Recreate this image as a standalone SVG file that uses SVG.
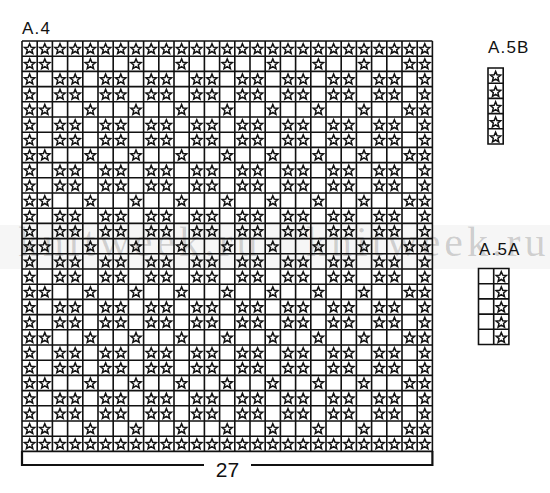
<svg xmlns="http://www.w3.org/2000/svg" width="550" height="493" viewBox="0 0 550 493">
<style>
.lbl{font-family:"Liberation Sans",Arial,sans-serif;font-size:17px;fill:#111;letter-spacing:1.2px}
.num{font-family:"Liberation Sans",Arial,sans-serif;font-size:21px;fill:#111}
.grid{fill:none;stroke:#111;stroke-width:1.6}
.br{fill:none;stroke:#111;stroke-width:2.2}
.wm{font-family:"Liberation Serif","Times New Roman",serif;font-size:42px;fill:#000;fill-opacity:0.17;letter-spacing:4px}
</style>
<defs>
<path id="s" d="M0,-4.9 L1.411,-1.442 L5.136,-1.169 L2.283,1.242 L3.174,4.869 L0,2.9 L-3.174,4.869 L-2.283,1.242 L-5.136,-1.169 L-1.411,-1.442 Z" fill="#fff" stroke="#111" stroke-width="1.5" stroke-linejoin="miter"/>
<g id="rF">
<use href="#s" x="0"/><use href="#s" x="15.2"/><use href="#s" x="30.4"/><use href="#s" x="45.6"/><use href="#s" x="60.8"/><use href="#s" x="76"/><use href="#s" x="91.2"/><use href="#s" x="106.4"/><use href="#s" x="121.6"/><use href="#s" x="136.8"/><use href="#s" x="152"/><use href="#s" x="167.2"/><use href="#s" x="182.4"/><use href="#s" x="197.6"/><use href="#s" x="212.8"/><use href="#s" x="228"/><use href="#s" x="243.2"/><use href="#s" x="258.4"/><use href="#s" x="273.6"/><use href="#s" x="288.8"/><use href="#s" x="304"/><use href="#s" x="319.2"/><use href="#s" x="334.4"/><use href="#s" x="349.6"/><use href="#s" x="364.8"/><use href="#s" x="380"/><use href="#s" x="395.2"/>
</g>
<g id="rA">
<use href="#s" x="0"/><use href="#s" x="15.2"/><use href="#s" x="60.8"/><use href="#s" x="106.4"/><use href="#s" x="152"/><use href="#s" x="197.6"/><use href="#s" x="243.2"/><use href="#s" x="288.8"/><use href="#s" x="334.4"/><use href="#s" x="380"/><use href="#s" x="395.2"/>
</g>
<g id="rB">
<use href="#s" x="0"/><use href="#s" x="30.4"/><use href="#s" x="45.6"/><use href="#s" x="76"/><use href="#s" x="91.2"/><use href="#s" x="121.6"/><use href="#s" x="136.8"/><use href="#s" x="167.2"/><use href="#s" x="182.4"/><use href="#s" x="212.8"/><use href="#s" x="228"/><use href="#s" x="258.4"/><use href="#s" x="273.6"/><use href="#s" x="304"/><use href="#s" x="319.2"/><use href="#s" x="349.6"/><use href="#s" x="364.8"/><use href="#s" x="395.2"/>
</g>
</defs>
<rect width="550" height="493" fill="#fff"/>

<g id="chart-A4">
<text class="lbl" x="22" y="34">A.4</text>
<g id="A4-stars" transform="translate(29.6,48.6)">
<use href="#rF" y="0"/><use href="#rA" y="15.2"/><use href="#rB" y="30.4"/><use href="#rB" y="45.6"/><use href="#rA" y="60.8"/><use href="#rB" y="76"/><use href="#rB" y="91.2"/><use href="#rA" y="106.4"/><use href="#rB" y="121.6"/><use href="#rB" y="136.8"/><use href="#rA" y="152"/><use href="#rB" y="167.2"/><use href="#rB" y="182.4"/><use href="#rA" y="197.6"/><use href="#rB" y="212.8"/><use href="#rB" y="228"/><use href="#rA" y="243.2"/><use href="#rB" y="258.4"/><use href="#rB" y="273.6"/><use href="#rA" y="288.8"/><use href="#rB" y="304"/><use href="#rB" y="319.2"/><use href="#rA" y="334.4"/><use href="#rB" y="349.6"/><use href="#rB" y="364.8"/><use href="#rA" y="380"/><use href="#rF" y="395.2"/>
</g>
<path class="grid" d="M22 41V451.4M37.2 41V451.4M52.4 41V451.4M67.6 41V451.4M82.8 41V451.4M98 41V451.4M113.2 41V451.4M128.4 41V451.4M143.6 41V451.4M158.8 41V451.4M174 41V451.4M189.2 41V451.4M204.4 41V451.4M219.6 41V451.4M234.8 41V451.4M250 41V451.4M265.2 41V451.4M280.4 41V451.4M295.6 41V451.4M310.8 41V451.4M326 41V451.4M341.2 41V451.4M356.4 41V451.4M371.6 41V451.4M386.8 41V451.4M402 41V451.4M417.2 41V451.4M432.4 41V451.4
M22 41H432.4M22 56.2H432.4M22 71.4H432.4M22 86.6H432.4M22 101.8H432.4M22 117H432.4M22 132.2H432.4M22 147.4H432.4M22 162.6H432.4M22 177.8H432.4M22 193H432.4M22 208.2H432.4M22 223.4H432.4M22 238.6H432.4M22 253.8H432.4M22 269H432.4M22 284.2H432.4M22 299.4H432.4M22 314.6H432.4M22 329.8H432.4M22 345H432.4M22 360.2H432.4M22 375.4H432.4M22 390.6H432.4M22 405.8H432.4M22 421H432.4M22 436.2H432.4M22 451.4H432.4"/>
<g id="width-bracket">
<path class="br" d="M22 451V465H204M251 465H432.4V451"/>
<text class="num" x="227.5" y="477" text-anchor="middle">27</text>
</g>
</g>

<g id="chart-A5B">
<text class="lbl" x="488" y="52.5">A.5B</text>
<use href="#s" x="495.6" y="76.3"/><use href="#s" x="495.6" y="91.5"/><use href="#s" x="495.6" y="106.7"/><use href="#s" x="495.6" y="121.9"/><use href="#s" x="495.6" y="137.1"/>
<path class="grid" d="M488 68V144H503.2V68ZM488 83.2H503.2M488 98.4H503.2M488 113.6H503.2M488 128.8H503.2"/>
</g>

<g id="chart-A5A">
<text class="lbl" x="479" y="255.2">A.5A</text>
<use href="#s" x="501.3" y="276.6"/><use href="#s" x="501.3" y="291.8"/><use href="#s" x="501.3" y="307"/><use href="#s" x="501.3" y="322.2"/><use href="#s" x="501.3" y="337.4"/>
<path class="grid" d="M478.5 268.5V344.5H508.9V268.5ZM493.7 268.5V344.5M478.5 283.7H508.9M478.5 298.9H508.9M478.5 314.1H508.9M478.5 329.3H508.9"/>
</g>

<g id="watermark">
<rect x="0" y="225" width="550" height="44" fill="#000" fill-opacity="0.035"/>
<text class="wm" x="18" y="256">knitweek.ru</text>
<text class="wm" x="306" y="256">knitweek.ru</text>
</g>
</svg>
